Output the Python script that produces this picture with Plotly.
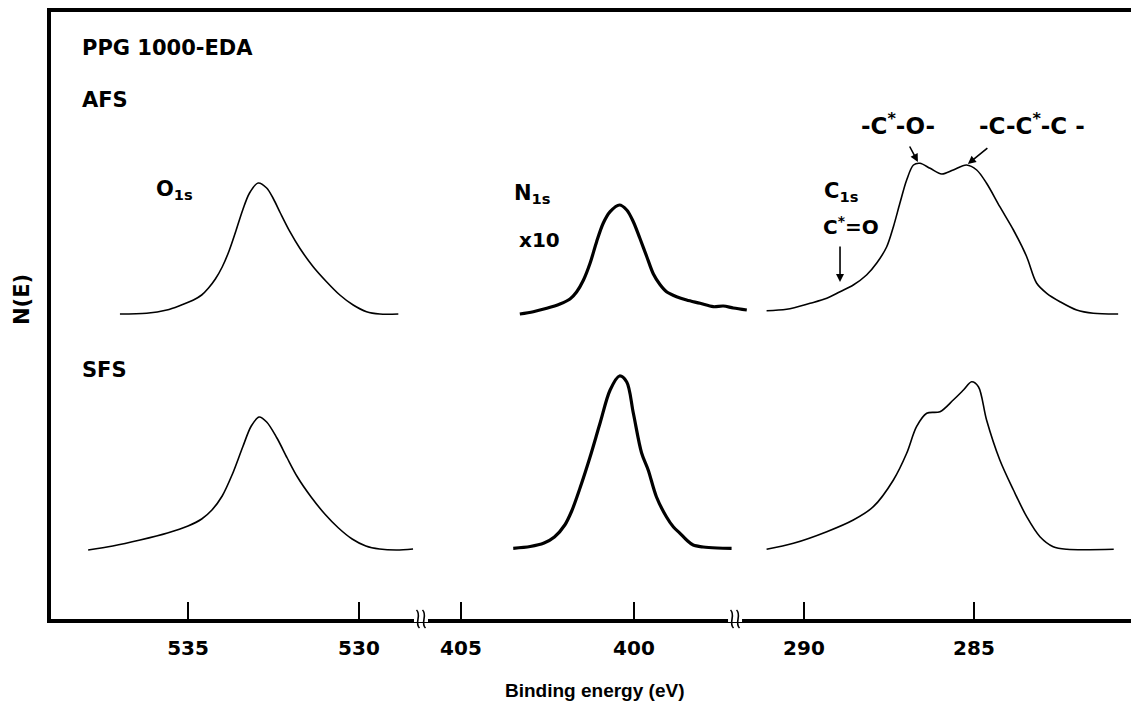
import plotly.graph_objects as go

# ---------------------------------------------------------------------------
# XPS core-level spectra of PPG 1000-EDA, air-facing (AFS) and substrate-facing
# (SFS) surfaces. Binding energy in eV; N(E) in arbitrary units measured above
# each spectrum's own baseline.
# ---------------------------------------------------------------------------
o1s_afs_be = [536.99, 536.21, 535.62, 535.23, 534.84, 534.6, 534.4, 534.2, 534.0,
              533.8, 533.6, 533.4, 533.2, 532.95, 532.7, 532.5, 532.3, 532.02,
              531.73, 531.34, 530.95, 530.56, 530.17, 529.78, 529.39, 528.85]
o1s_afs_ne = [0, 0.7, 4, 8.5, 14, 19, 26, 35, 47,
              63, 83, 104, 121, 131, 126, 115, 101, 82.3,
              65.7, 47.3, 32.3, 19, 9, 2.3, 0, 0]

o1s_sfs_be = [537.92, 537.2, 536.4, 535.6, 535.0, 534.6, 534.3, 534.0, 533.7, 533.4,
              533.15, 532.92, 532.7, 532.4, 532.1, 531.8, 531.4, 531.0, 530.6, 530.2,
              529.8, 529.4, 528.9, 528.42]
o1s_sfs_ne = [0, 4, 10, 17, 24, 31, 40, 54, 76, 103,
              124, 133, 128, 112, 92, 73, 53, 36, 22, 11,
              4, 1, 0, 1]

n1s_afs_be = [403.30, 402.91, 402.52, 402.14, 401.85, 401.66, 401.46, 401.27, 401.08,
              400.89, 400.69, 400.42, 400.21, 400.02, 399.83, 399.63, 399.44, 399.25,
              399.06, 398.77, 398.48, 398.09, 397.71, 397.42, 397.13, 396.74]
n1s_afs_ne = [0, 2.3, 5.7, 10, 15, 22, 34, 50.7, 72.3,
              90.7, 102.3, 109, 104, 92.3, 75.7, 57.3, 40, 29.5,
              22.3, 17.3, 14, 10.7, 7.3, 8, 6, 4]

n1s_sfs_be = [403.49, 403.00, 402.60, 402.30, 402.00, 401.80, 401.56, 401.27, 400.98,
              400.69, 400.42, 400.21, 400.02, 399.78, 399.59, 399.35, 399.06, 398.86,
              398.67, 398.48, 398.29, 398.00, 397.60, 397.18]
n1s_sfs_ne = [1.7, 3.5, 7, 13, 25, 39, 62, 93, 127,
              160, 174, 168, 137, 97, 80, 53, 33, 23,
              16.7, 10, 5, 3, 2, 1.7]

c1s_afs_be = [291.10, 290.51, 289.82, 289.33, 288.94, 288.55, 288.16, 287.86, 287.57,
              287.37, 287.18, 286.98, 286.78, 286.59, 286.29, 285.95, 285.61, 285.22,
              284.92, 284.63, 284.24, 283.84, 283.45, 283.16, 282.86, 282.47, 281.98,
              281.49, 280.76]
c1s_afs_ne = [3.3, 4.7, 10.7, 15.7, 22.3, 29, 39, 51, 67,
              87.3, 110.7, 134, 149, 150.7, 145.7, 140, 144, 149,
              144, 130.7, 107.3, 84, 57.3, 31, 20.7, 12.3, 4,
              0.7, 0]

c1s_sfs_be = [291.10, 290.31, 289.33, 288.55, 287.96, 287.37, 286.98, 286.69, 286.39,
              286.00, 285.61, 285.31, 285.07, 284.87, 284.63, 284.24, 283.84, 283.45,
              283.06, 282.67, 282.27, 280.89]
c1s_sfs_ne = [0.7, 6.7, 18.3, 30, 43.3, 70, 96.7, 123.3, 136.7,
              138.3, 150, 160, 168.3, 163.3, 130, 90, 60, 33.3,
              13.3, 3.3, 0.7, 0.7]

tick_vals = [[535, 530], [405, 400], [290, 285]]
tick_text = [["535", "530"], ["405", "400"], ["290", "285"]]

# vertical placement of the two stacked sets of spectra
AFS_OFFSET = 305
SFS_OFFSET = 69

# ---------------------------------------------------------------------------
# Figure geometry: a single N(E) axis shared by three broken energy segments
# ---------------------------------------------------------------------------
W, H = 1131, 702
ML, MR, MT, MB = 51, 0, 12, 83
PW, PH = W - ML - MR, H - MT - MB

seg_domains = [[0.0, 0.34259], [0.34259, 0.65185], [0.65185, 1.0]]
seg_ranges = [[539.006, 528.187], [406.156, 396.503], [291.441, 280.382]]
y_range = [0, 607]

INK = "black"
FONT = "DejaVu Sans"


def px(xp, yp):
    """Page pixel position -> paper coordinates."""
    return (xp - ML) / PW, (H - MB - yp) / PH


def ev_to_paper(ev, seg):
    d0, d1 = seg_domains[seg]
    r0, r1 = seg_ranges[seg]
    return d0 + (ev - r0) / (r1 - r0) * (d1 - d0)


fig = go.Figure()


def add_spectrum(be, ne, offset, seg, width):
    fig.add_trace(go.Scatter(
        x=be, y=[v + offset for v in ne],
        xaxis="x" if seg == 0 else f"x{seg + 1}", yaxis="y",
        mode="lines", line=dict(color=INK, width=width, shape="spline", smoothing=0.9),
        hoverinfo="skip", showlegend=False,
    ))


add_spectrum(o1s_afs_be, o1s_afs_ne, AFS_OFFSET, 0, 1.6)
add_spectrum(o1s_sfs_be, o1s_sfs_ne, SFS_OFFSET, 0, 1.6)
add_spectrum(n1s_afs_be, n1s_afs_ne, AFS_OFFSET, 1, 3.2)
add_spectrum(n1s_sfs_be, n1s_sfs_ne, SFS_OFFSET, 1, 3.2)
add_spectrum(c1s_afs_be, c1s_afs_ne, AFS_OFFSET, 2, 1.6)
add_spectrum(c1s_sfs_be, c1s_sfs_ne, SFS_OFFSET, 2, 1.6)

axis_common = dict(
    showline=True, linecolor=INK, linewidth=3.5, mirror=True,
    ticks="inside", ticklen=17, tickwidth=2, tickcolor=INK,
    showgrid=False, zeroline=False, anchor="y",
    tickfont=dict(family=FONT, size=20, color=INK, weight="bold"),
    ticklabelstandoff=8,
)

layout_axes = {}
for i in range(3):
    name = "xaxis" if i == 0 else f"xaxis{i + 1}"
    layout_axes[name] = dict(axis_common, domain=seg_domains[i], range=seg_ranges[i],
                             tickmode="array", tickvals=tick_vals[i], ticktext=tick_text[i])

fig.update_layout(
    width=W, height=H,
    margin=dict(l=ML, r=MR, t=MT, b=MB, pad=0),
    paper_bgcolor="white", plot_bgcolor="white",
    yaxis=dict(range=y_range, showline=True, linecolor=INK, linewidth=3.5,
               showticklabels=False, ticks="", showgrid=False, zeroline=False),
    **layout_axes,
)

# ---------------------------------------------------------------------------
# Text labels
# ---------------------------------------------------------------------------
def label(text, xp, yp, size=21, xanchor="left", angle=0, family=FONT):
    x, y = px(xp, yp)
    fig.add_annotation(x=x, y=y, xref="paper", yref="paper", text=text, showarrow=False,
                       xanchor=xanchor, yanchor="middle", textangle=angle,
                       font=dict(family=family, size=size, color=INK, weight="bold"))


label("PPG 1000-EDA", 80, 48)
label("AFS", 80, 100)
label("SFS", 80, 370)
label("O<sub>1s</sub>", 154, 190)
label("N<sub>1s</sub>", 512, 194)
label("x10", 517, 240, size=20)
label("C<sub>1s</sub>", 822, 192)
label("C<sup>*</sup>=O", 821, 226, size=20)
label("-C<sup>*</sup>-O-", 898, 124, size=23, xanchor="center")
label("-C-C<sup>*</sup>-C -", 1032, 124, size=23, xanchor="center")
label("Binding energy (eV)", 594, 690, size=19, xanchor="center", family="Liberation Sans")
label("N(E)", 22, 300, size=21, xanchor="center", angle=-90)


# arrows marking the C1s components
def arrow(ev, ne, ax, ay):
    fig.add_annotation(x=ev, y=ne, xref="x3", yref="y", text="", showarrow=True,
                       ax=ax, ay=ay, arrowhead=2, arrowsize=1, arrowwidth=1.6,
                       arrowcolor=INK, standoff=0)


arrow(286.65, AFS_OFFSET + 152, -9, -17)
arrow(285.18, AFS_OFFSET + 150, 21, -17)
arrow(288.94, AFS_OFFSET + 32, 0, -37)


# ---------------------------------------------------------------------------
# Axis-break marks on the energy axis
# ---------------------------------------------------------------------------
def break_mark(xpaper):
    cx = ML + xpaper * PW
    y0 = H - MB
    x0p, y0p = px(cx - 7, y0 - 3)
    x1p, y1p = px(cx + 7, y0 + 3)
    fig.add_shape(type="rect", xref="paper", yref="paper", x0=x0p, x1=x1p, y0=y0p, y1=y1p,
                  fillcolor="white", line=dict(width=0), layer="above")
    for dx in (-3, 3):
        pts = [(cx + dx - 1.5, y0 - 9), (cx + dx + 4, y0 - 4), (cx + dx - 4, y0 + 4),
               (cx + dx + 1.5, y0 + 9)]
        pp = [px(a, b) for a, b in pts]
        path = (f"M {pp[0][0]},{pp[0][1]} C {pp[1][0]},{pp[1][1]} "
                f"{pp[2][0]},{pp[2][1]} {pp[3][0]},{pp[3][1]}")
        fig.add_shape(type="path", path=path, xref="paper", yref="paper",
                      line=dict(color=INK, width=1.6), layer="above")


break_mark(seg_domains[0][1])
break_mark(ev_to_paper(397.08, 1))

fig.write_html("out.html")
